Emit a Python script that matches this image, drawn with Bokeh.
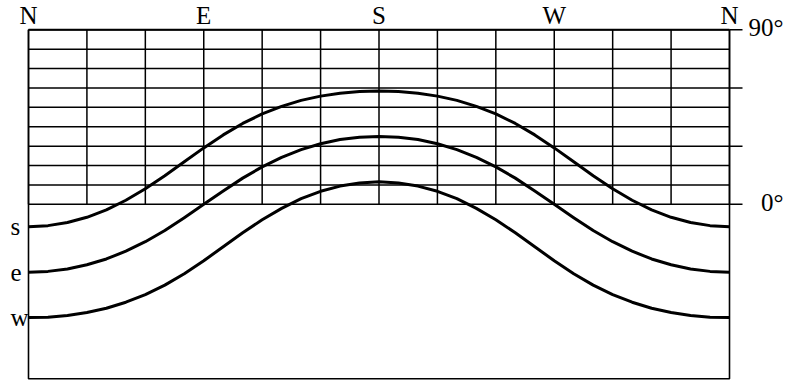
from bokeh.plotting import figure
from bokeh.models import Range1d
from bokeh.core.properties import value
from bokeh.embed import file_html
from bokeh.resources import INLINE

# azimuth (degrees from north) and solar altitude (degrees)
azimuth = [0, 10, 20, 30, 40, 50, 60, 70, 80, 90, 100, 110, 120, 130, 140, 150, 160, 170, 180,
           190, 200, 210, 220, 230, 240, 250, 260, 270, 280, 290, 300, 310, 320, 330, 340, 350, 360]
alt_s = [-11.6, -11.0, -9.4, -6.7, -2.9, 2.1, 8.0, 14.7, 21.9, 29.1, 35.8, 41.7, 46.6, 50.5, 53.6, 55.8, 57.3, 58.2, 58.4,
         58.2, 57.3, 55.8, 53.6, 50.5, 46.6, 41.7, 35.8, 29.1, 21.9, 14.7, 8.0, 2.1, -2.9, -6.7, -9.4, -11.0, -11.6]
alt_e = [-35.0, -34.6, -33.4, -31.2, -28.2, -24.2, -19.3, -13.5, -6.9, 0.0, 6.9, 13.5, 19.3, 24.2, 28.2, 31.2, 33.4, 34.6, 35.0,
         34.6, 33.4, 31.2, 28.2, 24.2, 19.3, 13.5, 6.9, 0.0, -6.9, -13.5, -19.3, -24.2, -28.2, -31.2, -33.4, -34.6, -35.0]
alt_w = [-58.4, -58.2, -57.3, -55.8, -53.6, -50.5, -46.6, -41.7, -35.8, -29.1, -21.9, -14.7, -8.0, -2.1, 2.9, 6.7, 9.4, 11.0, 11.6,
         11.0, 9.4, 6.7, 2.9, -2.1, -8.0, -14.7, -21.9, -29.1, -35.8, -41.7, -46.6, -50.5, -53.6, -55.8, -57.3, -58.2, -58.4]

compass_pos = [0, 90, 180, 270, 360]
compass_labels = ["N", "E", "S", "W", "N"]
grid_az = [0, 30, 60, 90, 120, 150, 180, 210, 240, 270, 300, 330, 360]
grid_alt = [0, 10, 20, 30, 40, 50, 60, 70, 80, 90]
tick_alt = [0, 30, 60, 90]
alt_label_pos = [90, 0]
alt_labels = ["90°", "0°"]
curve_names = ["s", "e", "w"]

FONT = value("Liberation Serif")
FS = "25px"

W, H = 788, 382
px_x = 701 / 360.0
px_y = 349 / 180.0
x0 = -28 / px_x
x1 = (W - 28) / px_x
y1 = 90 + 29.3 / px_y
y0 = -90 - (H - 378.3) / px_y

p = figure(width=W, height=H, output_backend="svg", toolbar_location=None,
           x_range=Range1d(x0, x1), y_range=Range1d(y0, y1), min_border=0)
p.axis.visible = False
p.grid.visible = False
p.outline_line_color = None
p.background_fill_color = "white"
p.border_fill_color = "white"

az_min, az_max = grid_az[0], grid_az[-1]
tick_end = az_max + (742 - 729) / px_x

# horizontal grid lines above the horizon
p.segment(x0=[az_min] * len(grid_alt), y0=grid_alt, x1=[az_max] * len(grid_alt), y1=grid_alt,
          line_color="black", line_width=1.5)
# ticks extending right
p.segment(x0=[az_max] * len(tick_alt), y0=tick_alt, x1=[tick_end] * len(tick_alt), y1=tick_alt,
          line_color="black", line_width=1.5)
# vertical grid lines
p.segment(x0=grid_az, y0=[0] * len(grid_az), x1=grid_az, y1=[90] * len(grid_az),
          line_color="black", line_width=1.5)
# frame
p.line(x=[az_min, az_min, az_max, az_max], y=[90, -90, -90, 90], line_color="black", line_width=1.6)
p.line(x=[az_min, az_max], y=[90, 90], line_color="black", line_width=2)

for alts in (alt_s, alt_e, alt_w):
    p.line(x=azimuth, y=alts, line_color="black", line_width=3, line_join="round")

top_y = 90 + 1.0 / px_y
p.text(x=compass_pos, y=[top_y] * len(compass_pos), text=compass_labels, text_font=FONT,
       text_font_size=FS, text_align="center", text_baseline="bottom",
       text_color="black")
p.text(x=[az_max + (783 - 729) / px_x] * 2, y=[a + 2 / px_y for a in alt_label_pos], text=alt_labels,
       text_font=FONT, text_font_size=FS, text_align="right", text_baseline="middle", text_color="black")
p.text(x=[az_min - 18 / px_x] * 3, y=[alt_s[0], alt_e[0], alt_w[0]], text=curve_names, text_font=FONT,
       text_font_size=FS, text_align="left", text_baseline="middle", text_color="black")

open("out.html", "w").write(file_html(p, INLINE))
